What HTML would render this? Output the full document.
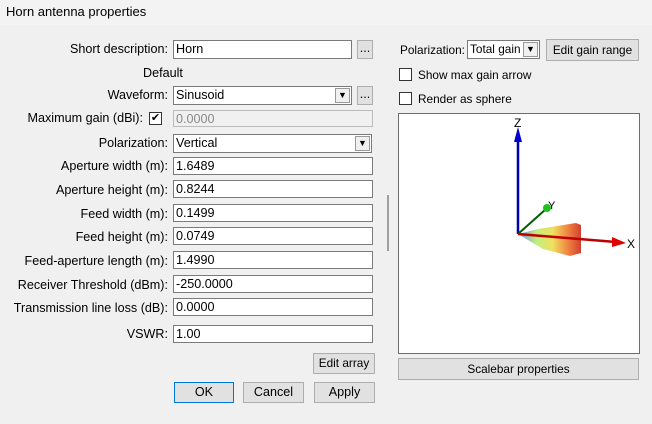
<!DOCTYPE html>
<html><head><style>
body{margin:0;width:652px;height:424px;background:#f0f0f0;font-family:"Liberation Sans",sans-serif;font-size:12.6px;color:#000;position:relative;overflow:hidden}
.a{position:absolute}
.lbl{position:absolute;text-align:right;width:168px;left:0}
.inp{position:absolute;background:#fff;border:1px solid #7a7a7a;height:17px;box-sizing:border-box;padding-left:2px;line-height:16px}
.btn{position:absolute;background:#e1e1e1;border:1px solid #adadad;box-sizing:border-box;text-align:center}
.cb{position:absolute;width:13px;height:13px;border:1px solid #333;background:#fff;box-sizing:border-box;font-size:11px;line-height:11px;text-align:center}
.dd{position:absolute;right:1px;top:1px;width:15px;height:15px;border:1px solid #999;background:#f0f0f0;box-sizing:border-box;font-size:9px;text-align:center;line-height:13px}
.r{font-size:11.8px}
</style></head><body>
<div class="a" style="left:0;top:0;width:652px;height:25px;background:#f3f3f3"></div>
<div class="a" style="left:6px;top:4px;font-size:13px">Horn antenna properties</div>

<div class="lbl" style="top:42px">Short description:</div>
<div class="inp" style="left:173px;top:40px;width:179px;height:19px">Horn</div>
<div class="btn" style="left:357px;top:40px;width:16px;height:19px;line-height:14px">...</div>
<div class="a" style="left:143px;top:66px">Default</div>

<div class="lbl" style="top:88px">Waveform:</div>
<div class="inp" style="left:173px;top:86px;width:179px;height:19px">Sinusoid<div class="dd">▼</div></div>
<div class="btn" style="left:357px;top:86px;width:16px;height:19px;line-height:14px">...</div>

<div class="lbl" style="top:111px;width:143px">Maximum gain (dBi):</div>
<div class="cb" style="left:149px;top:112px">✔</div>
<div class="inp" style="left:173px;top:110px;width:200px;background:#f0f0f0;border-color:#bbb;color:#8a8a8a">0.0000</div>

<div class="lbl" style="top:136px">Polarization:</div>
<div class="inp" style="left:173px;top:134px;width:199px;height:19px">Vertical<div class="dd">▼</div></div>

<div class="lbl" style="top:159px">Aperture width (m):</div>
<div class="inp" style="left:173px;top:157px;width:200px;height:18px">1.6489</div>
<div class="lbl" style="top:183px">Aperture height (m):</div>
<div class="inp" style="left:173px;top:180px;width:200px;height:18px">0.8244</div>
<div class="lbl" style="top:207px">Feed width (m):</div>
<div class="inp" style="left:173px;top:204px;width:200px;height:18px">0.1499</div>
<div class="lbl" style="top:230px">Feed height (m):</div>
<div class="inp" style="left:173px;top:227px;width:200px;height:18px">0.0749</div>
<div class="lbl" style="top:254px">Feed-aperture length (m):</div>
<div class="inp" style="left:173px;top:251px;width:200px;height:18px">1.4990</div>
<div class="lbl" style="top:278px">Receiver Threshold (dBm):</div>
<div class="inp" style="left:173px;top:275px;width:200px;height:18px">-250.0000</div>
<div class="lbl" style="top:301px">Transmission line loss (dB):</div>
<div class="inp" style="left:173px;top:298px;width:200px;height:18px">0.0000</div>
<div class="lbl" style="top:327px">VSWR:</div>
<div class="inp" style="left:173px;top:325px;width:200px;height:18px">1.00</div>

<div class="a" style="left:387px;top:195px;width:2px;height:56px;background:#a0a0a0"></div>

<div class="btn r" style="left:313px;top:353px;width:62px;height:21px;line-height:19px">Edit array</div>
<div class="btn" style="left:174px;top:382px;width:60px;height:21px;line-height:19px;border:1px solid #0078d7">OK</div>
<div class="btn" style="left:243px;top:382px;width:61px;height:21px;line-height:19px">Cancel</div>
<div class="btn" style="left:314px;top:382px;width:61px;height:21px;line-height:19px">Apply</div>

<div class="a r" style="left:400px;top:43px">Polarization:</div>
<div class="inp r" style="left:467px;top:40px;width:73px;height:19px">Total gain<div class="dd">▼</div></div>
<div class="btn r" style="left:546px;top:39px;width:93px;height:22px;line-height:20px">Edit gain range</div>
<div class="cb" style="left:399px;top:68px"></div>
<div class="a r" style="left:418px;top:68px">Show max gain arrow</div>
<div class="cb" style="left:399px;top:92px"></div>
<div class="a r" style="left:418px;top:92px">Render as sphere</div>

<svg class="a" style="left:398px;top:113px" width="242" height="242">
<defs><linearGradient id="g" x1="0" x2="1"><stop offset="0" stop-color="#8090e0"/><stop offset="0.3" stop-color="#c0f080"/><stop offset="0.55" stop-color="#f0e060"/><stop offset="0.8" stop-color="#f08040"/><stop offset="1" stop-color="#d04030"/></linearGradient></defs>
<rect x="0.5" y="0.5" width="241" height="240" fill="#fff" stroke="#6d6d6d"/>
<path d="M120 121 L140 116 L178 110 L183 112 L183 140 L172 143 L145 136 Z" fill="url(#g)"/>
<line x1="120" y1="121" x2="120" y2="22" stroke="#0000b0" stroke-width="2.5"/>
<polygon points="116,29 124,29 120,14" fill="#0000d0"/>
<text x="116" y="14" font-size="12" font-family="Liberation Sans">Z</text>
<line x1="120" y1="121" x2="148" y2="96" stroke="#006000" stroke-width="2"/>
<circle cx="149" cy="95" r="4" fill="#20c020"/>
<text x="150" y="96" font-size="11" font-family="Liberation Sans">Y</text>
<line x1="120" y1="121" x2="218" y2="129" stroke="#c00000" stroke-width="2.5"/>
<polygon points="214,124 228,130 214,134" fill="#e00000"/>
<text x="229" y="135" font-size="12" font-family="Liberation Sans">X</text>
</svg>
<div class="btn r" style="left:398px;top:358px;width:241px;height:22px;line-height:20px">Scalebar properties</div>
</body></html>
